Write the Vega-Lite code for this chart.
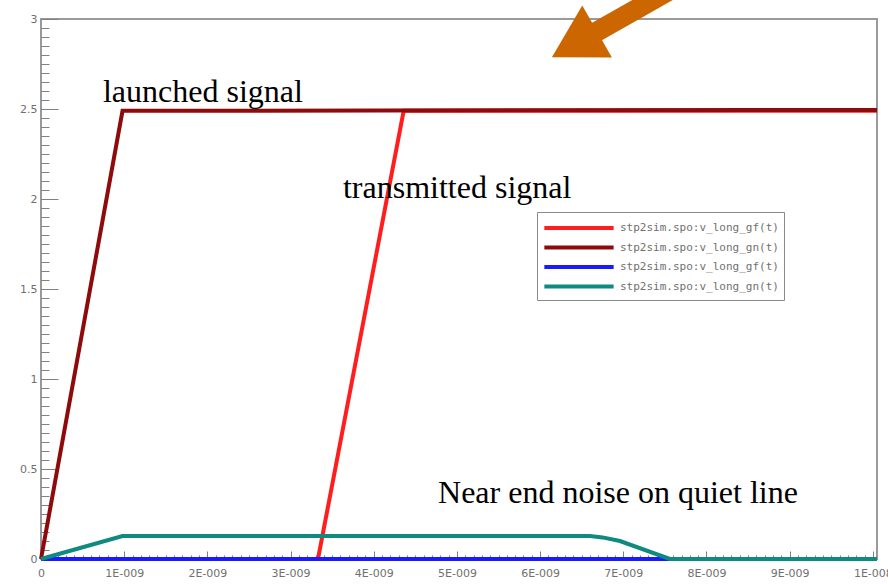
{
  "$schema": "https://vega.github.io/schema/vega-lite/v6.json",
  "width": 836,
  "height": 540,
  "autosize": {"type": "none"},
  "padding": {"left": 41, "top": 19, "right": 11, "bottom": 25},
  "background": "white",
  "config": {
    "view": {"stroke": "#9a9a9a", "strokeWidth": 2},
    "axis": {
      "domain": false,
      "grid": false,
      "tickColor": "#808080",
      "tickWidth": 1,
      "labelFont": "DejaVu Sans",
      "labelFontSize": 11,
      "labelColor": "#707070",
      "labelOverlap": false,
      "labelBound": false,
      "labelFlush": false,
      "title": null
    },
    "legend": {
      "labelFont": "DejaVu Sans Mono",
      "labelFontSize": 11,
      "labelColor": "#707070"
    }
  },
  "datasets": {
    "curves": [
      {"series": "a", "t": 0, "v": 0},
      {"series": "a", "t": 3.33e-9, "v": 0},
      {"series": "a", "t": 4.36e-9, "v": 2.49},
      {"series": "a", "t": 1.005e-8, "v": 2.49},
      {"series": "b", "t": 0, "v": 0},
      {"series": "b", "t": 0.98e-9, "v": 2.49},
      {"series": "b", "t": 1.005e-8, "v": 2.495},
      {"series": "c", "t": 0, "v": 0},
      {"series": "c", "t": 1.005e-8, "v": 0},
      {"series": "d", "t": 0, "v": 0},
      {"series": "d", "t": 0.98e-9, "v": 0.128},
      {"series": "d", "t": 6.6e-9, "v": 0.128},
      {"series": "d", "t": 6.75e-9, "v": 0.12},
      {"series": "d", "t": 6.96e-9, "v": 0.1},
      {"series": "d", "t": 7.56e-9, "v": 0},
      {"series": "d", "t": 1.005e-8, "v": 0}
    ],
    "notes": [
      {"t": 0.745e-9, "v": 2.539, "label": "launched signal"},
      {"t": 3.63e-9, "v": 2.006, "label": "transmitted signal"},
      {"t": 4.773e-9, "v": 0.311, "label": "Near end noise on quiet line"}
    ],
    "shaft": [
      {"t": 6.504e-9, "v": 2.883},
      {"t": 7.967e-9, "v": 3.267}
    ],
    "head": [
      {"t": 6.504e-9, "v": 2.883}
    ]
  },
  "resolve": {"axis": {"x": "independent", "y": "independent"}},
  "layer": [
    {
      "data": {"name": "curves"},
      "mark": {"type": "line", "strokeCap": "butt"},
      "encoding": {
        "x": {
          "field": "t",
          "type": "quantitative",
          "scale": {"domain": [0, 1.005e-8], "nice": false, "zero": false},
          "axis": {
            "orient": "bottom",
            "labels": false,
            "tickSize": -4,
            "values": [0,1e-10,2e-10,3e-10,4e-10,5e-10,6e-10,7e-10,8e-10,9e-10,10e-10,11e-10,12e-10,13e-10,14e-10,15e-10,16e-10,17e-10,18e-10,19e-10,20e-10,21e-10,22e-10,23e-10,24e-10,25e-10,26e-10,27e-10,28e-10,29e-10,30e-10,31e-10,32e-10,33e-10,34e-10,35e-10,36e-10,37e-10,38e-10,39e-10,40e-10,41e-10,42e-10,43e-10,44e-10,45e-10,46e-10,47e-10,48e-10,49e-10,50e-10,51e-10,52e-10,53e-10,54e-10,55e-10,56e-10,57e-10,58e-10,59e-10,60e-10,61e-10,62e-10,63e-10,64e-10,65e-10,66e-10,67e-10,68e-10,69e-10,70e-10,71e-10,72e-10,73e-10,74e-10,75e-10,76e-10,77e-10,78e-10,79e-10,80e-10,81e-10,82e-10,83e-10,84e-10,85e-10,86e-10,87e-10,88e-10,89e-10,90e-10,91e-10,92e-10,93e-10,94e-10,95e-10,96e-10,97e-10,98e-10,99e-10,100e-10]
          }
        },
        "y": {
          "field": "v",
          "type": "quantitative",
          "scale": {"domain": [0, 3], "nice": false, "zero": false},
          "axis": {
            "orient": "left",
            "labels": false,
            "tickSize": -8,
            "values": [0,0.05,0.1,0.15,0.2,0.25,0.3,0.35,0.4,0.45,0.5,0.55,0.6,0.65,0.7,0.75,0.8,0.85,0.9,0.95,1,1.05,1.1,1.15,1.2,1.25,1.3,1.35,1.4,1.45,1.5,1.55,1.6,1.65,1.7,1.75,1.8,1.85,1.9,1.95,2,2.05,2.1,2.15,2.2,2.25,2.3,2.35,2.4,2.45,2.5,2.55,2.6,2.65,2.7,2.75,2.8,2.85,2.9,2.95,3]
          }
        },
        "color": {
          "field": "series",
          "type": "nominal",
          "scale": {"domain": ["a", "b", "c", "d"], "range": ["#ff1e1e", "#8e0b0b", "#1a1aff", "#0f8a80"]},
          "legend": {
            "title": null,
            "orient": "none",
            "legendX": 496,
            "legendY": 193,
            "symbolType": "M-1,0H7",
            "symbolSize": 300,
            "symbolStrokeWidth": 4,
            "labelOffset": 56,
            "rowPadding": 0.5,
            "strokeColor": "#8a8a8a",
            "fillColor": "white",
            "padding": 5,
            "labelExpr": "(datum.value == 'a' || datum.value == 'c') ? 'stp2sim.spo:v_long_gf(t)' : 'stp2sim.spo:v_long_gn(t)'"
          }
        },
        "strokeWidth": {
          "field": "series",
          "type": "nominal",
          "scale": {"domain": ["a", "b", "c", "d"], "range": [4, 4, 3, 5]},
          "legend": null
        },
        "order": {"field": "t", "type": "quantitative"}
      }
    },
    {
      "data": {"name": "notes"},
      "mark": {"type": "text", "align": "left", "baseline": "alphabetic", "font": "Liberation Serif", "fontSize": 32, "color": "black"},
      "encoding": {
        "x": {
          "field": "t",
          "type": "quantitative",
          "scale": {"domain": [0, 1.005e-8], "nice": false, "zero": false},
          "axis": {
            "orient": "bottom",
            "tickSize": -8,
            "labelPadding": 16,
            "values": [0,1e-9,2e-9,3e-9,4e-9,5e-9,6e-9,7e-9,8e-9,9e-9,10e-9],
            "labelExpr": "datum.value == 0 ? '0' : (round(datum.value*1e9) == 10 ? '1E-008' : round(datum.value*1e9) + 'E-009')"
          }
        },
        "y": {
          "field": "v",
          "type": "quantitative",
          "scale": {"domain": [0, 3], "nice": false, "zero": false},
          "axis": {
            "orient": "left",
            "tickSize": -17,
            "labelPadding": 21,
            "values": [0,0.5,1,1.5,2,2.5,3],
            "labelExpr": "format(datum.value, '~g')"
          }
        },
        "text": {"field": "label", "type": "nominal"}
      }
    },
    {
      "data": {"name": "shaft"},
      "mark": {"type": "line", "color": "#cc6600", "strokeWidth": 20, "strokeCap": "butt"},
      "encoding": {
        "x": {"field": "t", "type": "quantitative", "axis": null},
        "y": {"field": "v", "type": "quantitative", "axis": null}
      }
    },
    {
      "data": {"name": "head"},
      "mark": {"type": "point", "shape": "triangle", "angle": 240.4, "size": 3600, "filled": true, "opacity": 1, "color": "#cc6600"},
      "encoding": {
        "x": {"field": "t", "type": "quantitative", "axis": null},
        "y": {"field": "v", "type": "quantitative", "axis": null}
      }
    }
  ]
}
